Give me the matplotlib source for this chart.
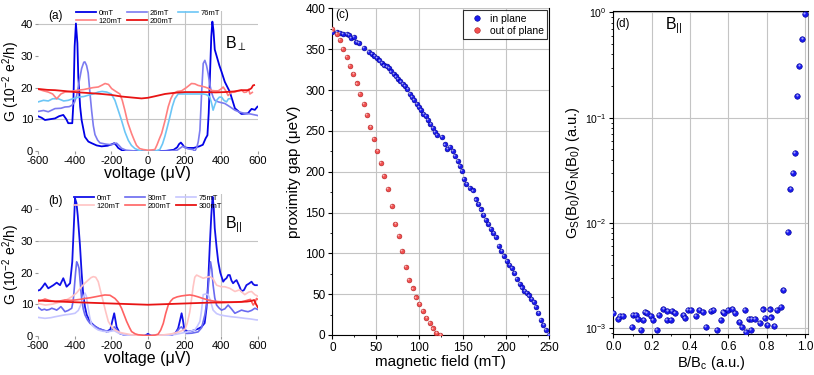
import numpy as np
import matplotlib
matplotlib.use("Agg")
import matplotlib.pyplot as plt
from matplotlib.ticker import AutoMinorLocator, LogLocator
from matplotlib.transforms import offset_copy
from matplotlib.lines import Line2D

plt.rcParams['font.family'] = ['Liberation Sans', 'DejaVu Sans']
plt.rcParams['mathtext.fontset'] = 'custom'
plt.rcParams['mathtext.rm'] = 'Liberation Sans'
plt.rcParams['mathtext.it'] = 'Liberation Sans:italic'
plt.rcParams['axes.unicode_minus'] = False

# ---------------------------------------------------------------------
# (a) perpendicular field: G vs voltage
# ---------------------------------------------------------------------
a0_v = [-600, -580, -562, -540, -507, -485, -462, -445, -435, -413, -407, -400, -393, -385, -380, -370,
        -362, -344, -325, -307, -280, -253, -220, -195, -184, -172, -162, -140, -100, -50, 0, 50, 100,
        140, 160, 170, 180, 190, 200, 220, 250, 280, 300, 315, 325, 332, 339, 346, 352, 358, 365, 375,
        390, 402, 420, 447, 475, 511, 546, 566, 584, 598]
a0_g = [11, 10.5, 9.8, 10, 10.3, 11, 11.4, 10, 8.8, 8.8, 15, 33, 40.2, 34, 23.4, 14,
        9.8, 4.5, 3, 2.5, 1.8, 1.5, 1.7, 2.2, 2.5, 1.8, 1, 0.2, 0, 0, 0, 0, 0.1,
        0.4, 1.2, 2.2, 2.7, 2, 1.2, 1, 1, 1.5, 2, 4, 5, 12, 24, 36, 40.8, 38, 32, 30,
        27, 25, 21.8, 18.7, 13.5, 11.7, 11.9, 13.3, 13, 14]

a26_v = [-600, -570, -544, -507, -475, -453, -430, -416, -400, -389, -375, -362, -350, -344, -335, -326,
         -316, -307, -298, -289, -275, -262, -230, -198, -184, -171, -158, -144, -120, -60, 0, 60, 120,
         160, 190, 220, 245, 256, 266, 275, 284, 293, 302, 311, 320, 329, 338, 347, 356, 365, 385, 420,
         447, 475, 500, 529, 560, 593, 600]
a26_g = [12.5, 12.8, 12.4, 13.4, 13.5, 13.9, 14, 14.4, 15.5, 17.5, 22, 26, 28, 28.1, 27, 24.6,
         18, 12.6, 8, 5.2, 3.5, 2.6, 2.2, 2, 2.4, 2.5, 1.8, 0.9, 0.3, 0, 0, 0, 0,
         0.3, 1.5, 0.7, 0.5, 0, 1, 3, 6.6, 18, 27.6, 28.6, 27, 24.4, 21, 18.6, 17, 16, 15.5, 15,
         14, 12.9, 12.3, 11.9, 11.7, 11.3, 11.2]

a76_v = [-600, -570, -544, -520, -489, -460, -435, -410, -380, -350, -326, -300, -271, -250, -225, -200,
         -180, -160, -144, -125, -107, -90, -71, -50, -35, 0, 35, 50, 65, 80, 93, 107, 120, 133, 147,
         165, 184, 210, 238, 270, 302, 320, 338, 348, 356, 365, 375, 390, 402, 415, 429, 440, 450]
a76_g = [15.5, 16, 15.8, 16.5, 16.5, 15.8, 16, 16.5, 17, 17.2, 17.6, 18, 18.6, 18.8, 18.6, 18,
         16, 12.5, 9.7, 6, 3.4, 1.8, 0.8, 0.3, 0, 0, 0, 0.2, 0.5, 2.3, 4.7, 7.8, 10.8, 14, 16.5,
         18, 18, 18, 18, 18, 18, 17.8, 17, 15, 12.9, 14.5, 16, 17, 17, 16, 15.5, 16.5, 16.5]

a120_v = [-600, -570, -544, -520, -498, -475, -453, -420, -380, -350, -326, -300, -271, -250, -234, -215,
          -198, -175, -153, -140, -126, -110, -89, -75, -62, -45, -25, 0, 25, 38, 50, 62, 75, 93, 111,
          125, 138, 160, 184, 210, 238, 256, 274, 290, 311, 330, 347, 366, 384, 398, 411, 425, 438, 455,
          475, 493, 511, 525, 538, 550, 557, 570]
a120_g = [19.5, 19, 18.6, 18, 16.5, 18, 18.6, 18.8, 19.2, 19.4, 19.7, 20, 20.2, 20.8, 21.3, 21,
          19.7, 18.8, 18, 16, 12.9, 9, 5.5, 3.5, 1.8, 0.8, 0.5, 0.3, 0.4, 0.5, 2, 3.8, 5.6, 9.5, 14,
          16.5, 18, 18.8, 19, 20, 21.3, 21.2, 20.7, 20.5, 20.2, 19.8, 19.1, 19, 19, 19.5, 20.2, 19, 17.5, 18.5,
          18.6, 19, 19.2, 18.5, 18.6, 19.5, 18, 18.5]

a200_v = [-600, -550, -507, -450, -398, -350, -300, -253, -200, -144, -90, -35, 0, 40, 93, 150, 202,
          260, 311, 370, 420, 470, 511, 548, 565, 574, 580]
a200_g = [19.6, 19.3, 19.2, 18.9, 18.6, 18.4, 18.2, 18, 17.7, 17.2, 16.9, 16.6, 16.8, 17.3, 18, 18.4, 18.6,
          18.6, 18.6, 18.5, 18.6, 18.8, 19.2, 19.2, 19.8, 20.7, 20.8]

# ---------------------------------------------------------------------
# (b) in-plane field
# ---------------------------------------------------------------------
b0_v = [-600, -589, -575, -562, -544, -530, -516, -498, -480, -462, -444, -425, -413, -405, -398, -390,
        -383, -371, -362, -353, -343, -334, -320, -307, -290, -271, -250, -225, -205, -195, -184, -176,
        -171, -160, -153, -130, -80, -20, -8, 0, 8, 20, 80, 130, 150, 165, 176, 184, 191, 198, 210,
        220, 240, 256, 275, 293, 310, 320, 330, 338, 346, 353, 359, 365, 375, 384, 395, 411, 420, 429,
        438, 447, 456, 465, 475, 484, 497, 511, 525, 538, 552, 566, 575, 584, 595]
b0_g = [14.3, 14.5, 15.5, 16.6, 15, 15.5, 16, 16.8, 16, 18.2, 15.5, 16.6, 23.4, 34, 43.5, 42,
        38, 28.7, 20, 12.9, 9, 6.6, 5, 3.9, 3, 2.3, 1.8, 1.3, 2, 4.5, 7.1, 4.5,
        2.8, 1.5, 0.7, 0.3, 0, 0, 0.3, 0.6, 0.3, 0, 0, 0.2, 0.8, 2.3, 5, 7.1, 5, 2.3, 1.5,
        1.3, 1.5, 1.8, 2.2, 2.8, 4, 8.7, 18, 28.7, 38, 44, 41, 34, 28, 23.4, 20, 17.1, 17.8, 18.2,
        19.2, 19.2, 17.5, 16.6, 17.2, 17.6, 16, 14, 14.5, 16, 16.5, 17.1, 16.3, 16, 16]

b30_v = [-600, -580, -565, -553, -538, -525, -510, -498, -487, -475, -462, -453, -435, -416, -408, -402,
         -395, -389, -382, -376, -368, -362, -353, -344, -330, -316, -290, -271, -245, -216, -195, -184,
         -173, -162, -144, -120, -60, 0, 60, 120, 150, 165, 175, 184, 195, 211, 240, 274, 293, 311,
         320, 329, 336, 342, 349, 356, 365, 375, 388, 402, 420, 438, 456, 475, 493, 511, 529, 547,
         566, 584, 600]
b30_g = [9, 8.1, 8.4, 8.1, 8.3, 8.7, 8.4, 8.1, 8.6, 9.2, 8.3, 7.6, 8, 8.7, 11, 15,
         20, 23.4, 22.5, 21.3, 16, 11.8, 8.5, 6.6, 5, 3.9, 3, 2.3, 1.8, 1.3, 1.8, 2.8,
         2, 1.3, 0.5, 0.2, 0, 0, 0, 0.2, 0.8, 1.8, 2.5, 2.8, 1.8, 0.7, 0.8, 1.2, 2.5, 6.6,
         10, 15, 20, 23.4, 21, 16, 12, 9.7, 8.8, 8.1, 8.5, 9.7, 8.5, 7.1, 7.6, 8.1, 7.8, 7.6,
         8, 8.7, 8.3]

b75_v = [-600, -562, -530, -507, -480, -453, -425, -398, -380, -362, -350, -344, -336, -329, -318, -307,
         -290, -271, -245, -216, -184, -160, -130, -100, -60, 0, 60, 100, 150, 200, 230, 256, 270,
         284, 293, 302, 315, 329, 342, 356, 375, 393, 420, 456, 490, 529, 560, 593, 600]
b75_g = [5.8, 5.5, 5.7, 6, 6.3, 6.6, 6.8, 7.1, 8, 10.3, 12.5, 13.5, 12.5, 9.7, 6, 3.4,
         2.5, 1.8, 1.4, 1.3, 1.6, 0.8, 0.3, 0.1, 0, 0, 0, 0.1, 0.4, 1, 1.4, 1.8, 3,
         4.5, 8, 13, 13.2, 13, 11, 8.1, 7, 6.6, 6.3, 6, 5.8, 5.5, 5.3, 5, 5]

b120_v = [-600, -560, -520, -471, -440, -416, -390, -362, -345, -326, -310, -298, -285, -271, -258, -244,
          -230, -216, -198, -180, -150, -126, -90, -40, 0, 40, 90, 130, 170, 202, 215, 229, 238, 247,
          256, 266, 280, 302, 320, 338, 356, 375, 400, 420, 447, 475, 500, 529, 550, 566, 584, 600]
b120_g = [10.2, 9.7, 10, 10.8, 11.5, 12.3, 13.5, 15.5, 16.6, 17.6, 18.4, 18.7, 18.5, 17.1, 14, 10.8,
          7.5, 4.5, 2.8, 1.8, 1, 0.7, 0.3, 0, 0, 0, 0.3, 0.6, 1.2, 2, 4, 7.6, 11.5, 15.5,
          18.5, 19.2, 18.8, 18.2, 18.5, 18.7, 18, 16, 15.5, 15.5, 15, 14, 14.5, 13, 13.8, 14, 13, 12.5]

b200_v = [-600, -580, -562, -540, -507, -480, -453, -420, -398, -370, -344, -316, -289, -262, -235, -207,
          -180, -160, -144, -130, -116, -100, -89, -70, -53, 0, 40, 56, 70, 84, 97, 111, 125, 138,
          160, 184, 210, 229, 250, 274, 300, 329, 356, 384, 420, 456, 485, 511, 530, 547, 560, 575,
          585, 593, 600]
b200_g = [10.8, 11.2, 11.6, 11.2, 10.8, 11, 11.3, 11.2, 11.3, 11.5, 11.8, 12, 12.3, 12.6, 12.9, 12.8,
          11.8, 10.5, 8.7, 6.6, 4.5, 2.5, 1.3, 0.6, 0.3, 0, 0.2, 0.5, 1.8, 3.9, 7, 9.7, 11, 11.8,
          12.3, 12.6, 12.8, 12.9, 12.7, 12.3, 11.8, 11.3, 11, 10.8, 10.7, 10.6, 10.6, 10.7, 11, 11.3, 11.5, 9.7,
          10.5, 11.8, 11.5]

b300_v = [-600, -560, -520, -480, -440, -400, -350, -300, -250, -200, -150, -100, -50, 0, 50, 100, 150,
          200, 250, 300, 350, 400, 450, 500, 540, 565, 580, 590, 600]
b300_g = [11.2, 11, 10.9, 10.8, 10.7, 10.6, 10.5, 10.4, 10.3, 10.2, 10.1, 10, 9.9, 9.8, 9.9, 10, 10.1,
          10.2, 10.3, 10.4, 10.5, 10.5, 10.6, 10.7, 10.8, 11, 11.3, 10, 9]

# ---------------------------------------------------------------------
# (c) proximity gap vs field
# ---------------------------------------------------------------------
ip_b = [0, 5.7, 8.7, 12.5, 16.3, 18.9, 21.2, 24.6, 27.7, 30.3, 36.4, 42, 45.5, 48.5, 51.5, 54.2,
        56.8, 59.8, 62.5, 65.2, 67.8, 70.5, 73.1, 75.8, 78.4, 81.1, 83.7, 86.4, 89, 91.7, 94.3, 97,
        99.6, 102.3, 104.9, 107.6, 110.2, 112.9, 115.5, 118.2, 120.8, 126.1, 129.5, 132.6, 135.6,
        138.6, 141.3, 144.3, 146.6, 148.9, 151.5, 154.5, 158.5, 161.7, 165.1, 168.2, 171.3, 174,
        177, 179.7, 182.8, 185.5, 188.6, 192, 194.7, 197.8, 200.8, 203.9, 206.6, 209.7, 212.7,
        215.8, 218.5, 221.2, 223.9, 226.6, 229.3, 231.9, 234.6, 237.3, 240.4, 243.1, 245.8, 249.3]
ip_gap = [370.7, 370.7, 369.5, 368.7, 368.3, 367.5, 363.4, 364.6, 359.3, 357.3, 351.2, 346.3, 344.3,
          341.9, 339, 336.2, 332.9, 330.1, 328.9, 326.8, 322.8, 319.9, 316.7, 313.4, 310.6, 307.7,
          305.3, 301.6, 295.5, 291.5, 287.4, 283.3, 279.3, 275.2, 271.1, 267.9, 263.8, 258.9, 253.7,
          248.4, 244.7, 242.7, 233.3, 228, 230.5, 225.2, 219.1, 213, 206.9, 200.8, 190.7, 184.6,
          180, 177, 166, 160.7, 153.7, 147.5, 141.4, 136, 129.9, 125, 119.7, 109.4, 102.5, 97.1,
          91, 86, 82, 75.8, 68.9, 62.7, 58.2, 54.1, 51.2, 48.4, 44.3, 40.2, 34, 26.6, 18.4, 12.3,
          6.1, 0]

op_b = [0, 4.9, 8.7, 12.5, 16.7, 20.5, 24.2, 28.4, 31.8, 35.9, 39.8, 43.9, 47.7, 51.9, 55.7, 59.8,
        64.0, 68.7, 72.6, 76.4, 80.3, 84.5, 88.3, 92.5, 96.4, 100.2, 104.1, 108.3, 112.1, 116.0,
        119.8, 124.4]
op_gap = [375, 369, 361, 350, 341, 330, 320, 308, 295, 283, 269, 255, 240, 225, 211, 195,
          179, 158, 136, 121, 103, 83, 67, 57, 46, 38, 29, 21, 15, 8, 3, 0]

# ---------------------------------------------------------------------
# (d) normalised zero-bias conductance vs B/Bc
# ---------------------------------------------------------------------
d_b = [0.0, 0.026, 0.035, 0.052, 0.096, 0.104, 0.118, 0.130, 0.143, 0.157, 0.165, 0.177, 0.195,
       0.205, 0.226, 0.238, 0.261, 0.278, 0.282, 0.301, 0.304, 0.322, 0.365, 0.374, 0.391, 0.405,
       0.431, 0.449, 0.466, 0.482, 0.508, 0.522, 0.539, 0.562, 0.570, 0.577, 0.597, 0.621, 0.635,
       0.657, 0.670, 0.685, 0.692, 0.708, 0.718, 0.720, 0.739, 0.765, 0.779, 0.791, 0.803, 0.817,
       0.823, 0.840, 0.852, 0.875, 0.887, 0.911, 0.923, 0.936, 0.948, 0.960, 0.970, 0.986, 0.997]
d_g = [1.39e-3, 1.23e-3, 1.30e-3, 1.31e-3, 1.04e-3, 1.35e-3, 1.35e-3, 1.22e-3, 0.97e-3, 1.20e-3,
       1.44e-3, 1.39e-3, 1.30e-3, 1.20e-3, 0.96e-3, 1.35e-3, 1.53e-3, 1.20e-3, 1.46e-3, 1.20e-3,
       1.46e-3, 1.41e-3, 1.34e-3, 1.26e-3, 1.49e-3, 1.49e-3, 1.32e-3, 1.49e-3, 1.44e-3, 1.04e-3,
       1.46e-3, 1.49e-3, 0.96e-3, 1.20e-3, 1.44e-3, 1.39e-3, 1.49e-3, 1.53e-3, 1.41e-3, 1.14e-3,
       1.04e-3, 1.49e-3, 0.93e-3, 1.22e-3, 0.96e-3, 1.22e-3, 1.22e-3, 1.13e-3, 1.51e-3, 1.26e-3,
       1.08e-3, 1.51e-3, 1.27e-3, 1.06e-3, 1.49e-3, 1.60e-3, 2.30e-3, 8.28e-3, 2.1e-2, 3.0e-2,
       4.66e-2, 0.160, 0.312, 0.558, 0.965]

# ---------------------------------------------------------------------
fig = plt.figure(figsize=(8.14, 3.75), dpi=100)
ax_a = fig.add_axes([0.0467, 0.597, 0.270, 0.3725])
ax_b = fig.add_axes([0.0467, 0.1048, 0.270, 0.379])
ax_c = fig.add_axes([0.4083, 0.1067, 0.2666, 0.871])
ax_d = fig.add_axes([0.7535, 0.1093, 0.2396, 0.861])

grid_col = "#c4c4c4"


def style_gv(ax, ymax, hgrid):
    ax.set_xlim(-600, 600)
    ax.set_ylim(0, ymax)
    ax.set_xticks([-600, -400, -200, 0, 200, 400, 600])
    ax.set_yticks([0, 10, 20, 30, 40])
    for x in (0, 200, 400):
        ax.axvline(x, color=grid_col, lw=0.8, zorder=0)
    for y in hgrid:
        ax.axhline(y, color=grid_col, lw=0.8, zorder=0)
    for s in ax.spines.values():
        s.set_visible(False)
    ax.tick_params(labelsize=8, length=2, color="#999999", pad=1.5)
    ax.set_xlabel("voltage (μV)", fontsize=11.5, labelpad=0)
    ax.set_ylabel("G (10$^{-2}$ e$^{2}$/h)", fontsize=10, labelpad=-1)


# (a)
la = []
la.append(ax_a.plot(a0_v, a0_g, color="#0000e6", lw=1.3, label="0mT")[0])
la.append(ax_a.plot(a26_v, a26_g, color="#7b7bf0", lw=1.2, label="26mT")[0])
la.append(ax_a.plot(a76_v, a76_g, color="#6cc6f6", lw=1.2, label="76mT")[0])
la.append(ax_a.plot(a120_v, a120_g, color="#ff8080", lw=1.2, label="120mT")[0])
la.append(ax_a.plot(a200_v, a200_g, color="#e81414", lw=1.3, label="200mT")[0])
style_gv(ax_a, 44, [10, 40])
order = [0, 3, 1, 4, 2]
ax_a.legend([la[i] for i in order], [la[i].get_label() for i in order], ncol=3,
            loc="upper center", bbox_to_anchor=(0.5, 1.04), fontsize=5.5, frameon=False,
            handlelength=2.6, columnspacing=0.6, labelspacing=0.05, handletextpad=0.4,
            borderpad=0)
ax_a.text(-545, 42.5, "(a)", fontsize=8.5, va="center", ha="left")
ax_a.text(420, 34, r"B$_{\perp}$", fontsize=11.5, va="center", ha="left")

# (b)
lb = []
lb.append(ax_b.plot(b0_v, b0_g, color="#1010e8", lw=1.3, label="0mT")[0])
lb.append(ax_b.plot(b30_v, b30_g, color="#6a6af0", lw=1.2, label="30mT")[0])
lb.append(ax_b.plot(b75_v, b75_g, color="#c6c6ff", lw=1.2, label="75mT")[0])
lb.append(ax_b.plot(b120_v, b120_g, color="#ffc4c4", lw=1.2, label="120mT")[0])
lb.append(ax_b.plot(b200_v, b200_g, color="#ff6262", lw=1.2, label="200mT")[0])
lb.append(ax_b.plot(b300_v, b300_g, color="#e81414", lw=1.3, label="300mT")[0])
style_gv(ax_b, 45, [30])
order = [0, 3, 1, 4, 2, 5]
ax_b.legend([lb[i] for i in order], [lb[i].get_label() for i in order], ncol=3,
            loc="upper center", bbox_to_anchor=(0.5, 1.02), fontsize=5.5, frameon=False,
            handlelength=2.6, columnspacing=0.6, labelspacing=0.05, handletextpad=0.4,
            borderpad=0)
ax_b.text(-545, 42.6, "(b)", fontsize=8.5, va="center", ha="left")
ax_b.text(420, 35.3, r"B$_{||}$", fontsize=11.5, va="center", ha="left")


def balls(ax, x, y, color, edge, s):
    ax.scatter(x, y, s=s, color=color, edgecolors=edge, linewidths=0.4, zorder=3)
    hl = offset_copy(ax.transData, fig=fig, x=-0.6, y=0.6, units="points")
    ax.scatter(x, y, s=s * 0.15, color="white", alpha=0.6, lw=0, zorder=4, transform=hl)


# (c)
balls(ax_c, ip_b, ip_gap, "#1a1aee", "#000090", 12)
balls(ax_c, op_b, op_gap, "#f25050", "#b02020", 12)
ax_c.set_xlim(0, 250)
ax_c.set_ylim(0, 400)
ax_c.set_xticks(np.arange(0, 251, 50))
ax_c.set_yticks(np.arange(0, 401, 50))
ax_c.xaxis.set_minor_locator(AutoMinorLocator(2))
ax_c.yaxis.set_minor_locator(AutoMinorLocator(2))
ax_c.grid(True, which="major", color=grid_col, lw=0.8, zorder=0)
ax_c.set_axisbelow(True)
ax_c.spines["top"].set_visible(False)
ax_c.tick_params(labelsize=8.5, length=3, pad=2)
ax_c.tick_params(which="minor", length=1.5)
ax_c.set_xlabel("magnetic field (mT)", fontsize=11, labelpad=1)
ax_c.set_ylabel("proximity gap (μeV)", fontsize=11, labelpad=3)
ax_c.text(3, 392, "(c)", fontsize=8.5, va="center", ha="left")
hand = [Line2D([], [], ls="none", marker="o", ms=4, color="#1a1aee", mec="#000090", mew=0.4),
        Line2D([], [], ls="none", marker="o", ms=4, color="#f25050", mec="#b02020", mew=0.4)]
leg = ax_c.legend(hand, ["in plane", "out of plane"], loc="upper right", fontsize=7.5,
                  frameon=True, fancybox=False, borderpad=0.3, handletextpad=0.3,
                  labelspacing=0.2, borderaxespad=0.2)
leg.get_frame().set_edgecolor("black")
leg.get_frame().set_linewidth(0.8)

# (d)
balls(ax_d, d_b, d_g, "#1a1aee", "#000090", 16)
ax_d.set_yscale("log")
ax_d.set_xlim(0, 1.017)
ax_d.set_ylim(8.83e-4, 1.03)
ax_d.set_xticks(np.arange(0, 1.01, 0.2))
ax_d.set_xticklabels(["0.0", "0.2", "0.4", "0.6", "0.8", "1.0"])
ax_d.yaxis.set_major_locator(LogLocator(base=10, numticks=10))
ax_d.xaxis.set_minor_locator(AutoMinorLocator(2))
ax_d.grid(True, which="major", color=grid_col, lw=0.8, zorder=0)
ax_d.set_axisbelow(True)
ax_d.spines["right"].set_color("#999999")
ax_d.tick_params(labelsize=8.5, length=3, pad=2)
ax_d.tick_params(which="minor", length=1.5)
ax_d.tick_params(axis="y", labelsize=7.5)
ax_d.set_xlabel("B/B$_{\\mathrm{c}}$ (a.u.)", fontsize=10.5, labelpad=1)
ax_d.set_ylabel("G$_{\\mathrm{S}}$(B$_{0}$)/G$_{\\mathrm{N}}$(B$_{0}$) (a.u.)", fontsize=10.5, labelpad=2)
ax_d.text(0.01, 0.78, "(d)", fontsize=8.5, va="center", ha="left")
ax_d.text(0.27, 0.75, r"B$_{||}$", fontsize=11.5, va="center", ha="left")

fig.savefig("out.png", dpi=100)
